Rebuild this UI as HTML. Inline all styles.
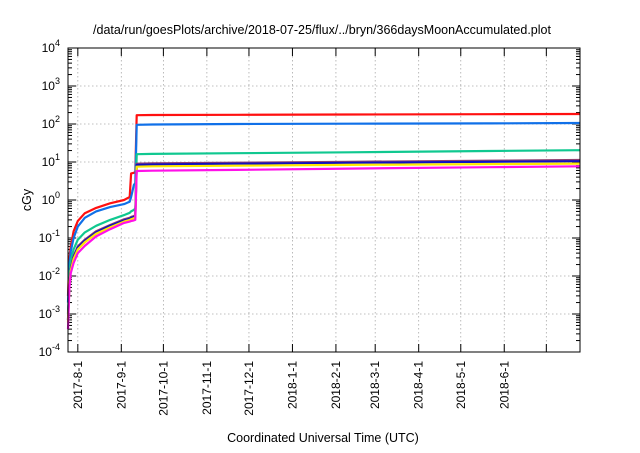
<!DOCTYPE html>
<html><head><meta charset="utf-8"><style>
body{margin:0;background:#fff;}
svg{font-family:"Liberation Sans",sans-serif;}
</style></head><body>
<svg id="chart" width="640" height="448" xmlns="http://www.w3.org/2000/svg">
<text x="322" y="34" font-size="12.5" text-anchor="middle">/data/run/goesPlots/archive/2018-07-25/flux/../bryn/366daysMoonAccumulated.plot</text>
<text x="0" y="0" font-size="12.5" text-anchor="middle" transform="translate(31,200) rotate(-90)">cGy</text>
<text x="323" y="442" font-size="12.5" text-anchor="middle">Coordinated Universal Time (UTC)</text>
<g id="grid"></g><g id="axes"></g><g id="series"></g>
<rect x="68" y="48" width="512" height="304" fill="none" stroke="#000" stroke-width="1"/>
</svg>
<script>
const days=[0,1,2,4,7,12,20,30,40,44,45,47,48,49,60,120,200,300,365];
const red=[0.003,0.03,0.06,0.15,0.28,0.45,0.62,0.82,1.0,1.2,5,5.2,5.5,170,172,175,178,181,183];
const blue=[0.002,0.02,0.045,0.1,0.2,0.34,0.5,0.65,0.78,0.9,1.2,2.5,2.8,95,97,100,102,104,106];
const green=[0.001,0.01,0.025,0.05,0.09,0.14,0.21,0.3,0.4,0.46,0.5,0.55,0.6,16,16.3,17,18,19.5,20.5];
const purple=[0.0007,0.007,0.016,0.033,0.06,0.09,0.15,0.22,0.31,0.34,0.36,0.38,0.4,9,9.2,9.6,10.1,10.8,11.3];
const navy=[0.0007,0.0065,0.015,0.031,0.056,0.085,0.14,0.21,0.29,0.32,0.34,0.36,0.38,8.4,8.6,9.0,9.5,10.1,10.5];
const yellow=[0.0006,0.006,0.014,0.028,0.05,0.077,0.13,0.19,0.27,0.3,0.31,0.33,0.35,7.5,7.7,8.0,8.4,8.8,9.1];
const magenta=[0.0004,0.005,0.012,0.022,0.04,0.062,0.11,0.17,0.25,0.27,0.28,0.29,0.3,5.8,5.9,6.2,6.7,7.3,7.7];
const seriesList=[["red",red,"#ff1010"],["blue",blue,"#1070e8"],["green",green,"#10c890"],["purple",purple,"#904070"],["navy",navy,"#1010c0"],["yellow",yellow,"#ffe800"],["magenta",magenta,"#ff10e8"]];
const tickDays=[7,38,68,99,129,160,191,219,250,280,311,341];
const tickLabels=["2017-8-1","2017-9-1","2017-10-1","2017-11-1","2017-12-1","2018-1-1","2018-2-1","2018-3-1","2018-4-1","2018-5-1","2018-6-1",""];
const yExps=[-4,-3,-2,-1,0,1,2,3,4];
const NS="http://www.w3.org/2000/svg";
const X0=68,X1=580,Y0=352,Y1=48,DMAX=365;
const xs=d=>X0+d/DMAX*(X1-X0);
const ys=v=>Y0-(Math.log10(v)+4)/8*(Y0-Y1);
const grid=document.getElementById('grid'),axes=document.getElementById('axes'),sg=document.getElementById('series');
function mk(tag,at,parent){const e=document.createElementNS(NS,tag);for(const k in at)e.setAttribute(k,at[k]);parent.appendChild(e);return e;}
yExps.forEach(e=>{
 const y=ys(Math.pow(10,e));
 if(e>-4&&e<4){const g=mk('line',{x1:X0,x2:X1,y1:y,y2:y,stroke:'#aaa','stroke-dasharray':'1.5,2.5','stroke-width':0.8},grid);
 
 }
 mk('line',{x1:X0,x2:X0+8,y1:y,y2:y,stroke:'#000'},axes);
 mk('line',{x1:X1,x2:X1-8,y1:y,y2:y,stroke:'#000'},axes);
 if(e<4){for(let m=2;m<10;m++){const yy=ys(m*Math.pow(10,e));
  mk('line',{x1:X0,x2:X0+4,y1:yy,y2:yy,stroke:'#000'},axes);
  mk('line',{x1:X1,x2:X1-4,y1:yy,y2:yy,stroke:'#000'},axes);}}
 const t=mk('text',{x:60,y:y+4,'font-size':12,'text-anchor':'end'},axes);
 
 
 t.innerHTML='10<tspan dy="-6" font-size="9">'+e+'</tspan>';
});
tickDays.forEach((d,i)=>{
 const x=xs(d);
 const g=mk('line',{x1:x,x2:x,y1:Y1,y2:Y0,stroke:'#aaa','stroke-dasharray':'1.5,2.5','stroke-width':0.8},grid);
 
 
 mk('line',{x1:x,x2:x,y1:Y0,y2:Y0-8,stroke:'#000'},axes);
 mk('line',{x1:x,x2:x,y1:Y1,y2:Y1+8,stroke:'#000'},axes);
 if(tickLabels[i]){const t=mk('text',{x:0,y:0,'font-size':12,'text-anchor':'end',transform:'translate('+(x+4)+',361) rotate(-90)'},axes);
 
 
 t.textContent=tickLabels[i];}
});
seriesList.forEach(s=>{
 const pts=days.map((d,i)=>xs(d).toFixed(1)+','+ys(s[1][i]).toFixed(1)).join(' ');
 const p=mk('polyline',{points:pts,fill:'none',stroke:s[2],'stroke-width':2.2,'stroke-linejoin':'round'},sg);
 
 
});
</script>
</body></html>
